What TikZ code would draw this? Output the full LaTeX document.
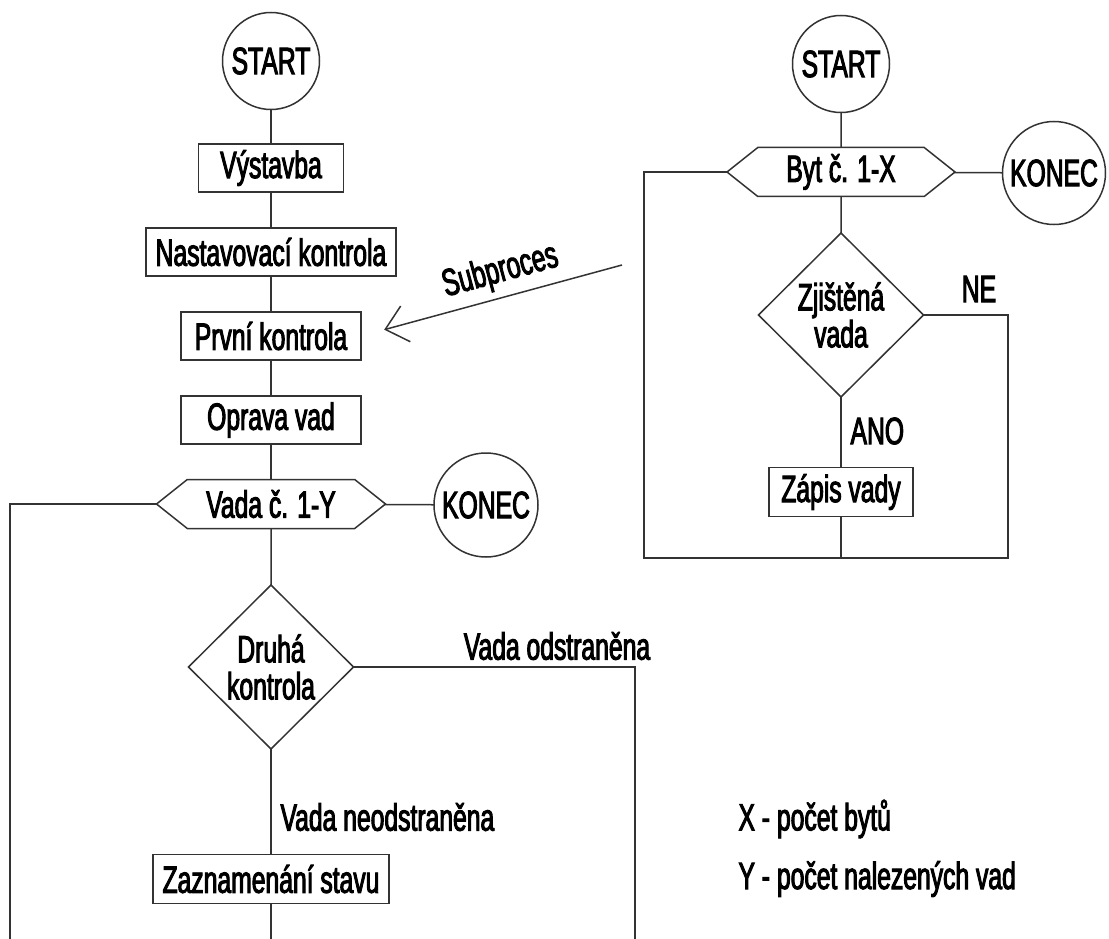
\documentclass[tikz,border=0pt]{standalone}
\usepackage{fontspec}
\setmainfont[FakeStretch=0.65, FakeBold=2.5]{Liberation Sans}
\usetikzlibrary{shapes.geometric,shapes.symbols,arrows.meta}

\begin{document}
\begin{tikzpicture}[x=1pt, y=-1pt,
    every node/.style={font=\fontsize{38}{37}\selectfont},
    tvar/.style={draw=black!80, line width=1.5pt, inner sep=0pt, outer sep=0pt},
    box/.style={tvar, rectangle, minimum height=48pt},
    term/.style={tvar, circle, minimum size=97pt},
    decision/.style={tvar, diamond, align=center, minimum width=165pt, minimum height=164pt},
    cyklus/.style={tvar, signal, signal to=west and east, signal pointer angle=77, minimum width=229pt, minimum height=49pt},
    spoj/.style={draw=black!80, line width=1.5pt},
]
    \useasboundingbox (0,0) rectangle (1109,939);

    % Hlavni proces
    \node[term] (startL) at (271,61) {START};
    \node[box, minimum width=145pt] (vystavba) at (271,168) {Výstavba};
    \node[box, minimum width=250pt] (nastav) at (271,252) {Nastavovací kontrola};
    \node[box, minimum width=180pt] (prvni) at (271,336) {První kontrola};
    \node[box, minimum width=180pt] (oprava) at (271,420) {Oprava vad};
    \node[cyklus] (vadaY) at (271,504) {Vada č. 1-Y};
    \node[term, minimum size=104pt] (konecL) at (486,505) {KONEC};
    \node[decision] (druha) at (271,667) {Druhá\\kontrola};
    \node[box, minimum width=236pt, minimum height=49pt] (zaznam) at (271,879) {Zaznamenání stavu};
    \node (odstrText) at (557,646) {Vada odstraněna};
    \node[anchor=west] (neodstrText) at (277,817) {Vada neodstraněna};

    \coordinate (smyckaL) at (10,504);
    \coordinate (dolL) at (10,939);
    \coordinate (dolM) at (271,939);
    \coordinate (odstr) at (635,667);
    \coordinate (dolR) at (635,939);

    \draw[spoj] (startL) -- (vystavba) -- (nastav) -- (prvni) -- (oprava) -- (vadaY);
    \draw[spoj] (vadaY) -- (konecL);
    \draw[spoj] (vadaY.west) -- (smyckaL) -- (dolL);
    \draw[spoj] (vadaY) -- (druha);
    \draw[spoj] (druha.east) -- (odstr) -- (dolR);
    \draw[spoj] (druha) -- (zaznam) -- (dolM);

    % Subproces
    \node[term] (startR) at (841,64) {START};
    \node[cyklus, minimum width=228pt] (bytX) at (841,172) {Byt č. 1-X};
    \node[term, minimum size=103pt] (konecR) at (1054,173) {KONEC};
    \node[decision] (zjist) at (841,315) {Zjištěná\\vada};
    \node[box, minimum width=144pt, minimum height=49pt] (zapis) at (841,492) {Zápis vady};
    \node (neText) at (979,289) {NE};
    \node[anchor=west] (anoText) at (847,431) {ANO};

    \coordinate (smyckaR) at (644,172);
    \coordinate (rohLD) at (644,558);
    \coordinate (dolS) at (841,558);
    \coordinate (rohPD) at (1008,558);
    \coordinate (ne) at (1008,315);
    \coordinate (sub) at (622,265);

    \draw[spoj] (startR) -- (bytX) -- (zjist);
    \draw[spoj] (bytX) -- (konecR);
    \draw[spoj] (zjist) -- (zapis) -- (dolS);
    \draw[spoj] (bytX.west) -- (smyckaR) -- (rohLD) -- (rohPD) -- (ne) -- (zjist.east);

    % Odkaz na subproces
    \draw[spoj, {Straight Barb[length=21pt, width=37pt]}-, shorten <=24pt] (prvni.east) -- (sub)
        node[pos=0.56, sloped, above, inner sep=7pt] (subText) {Subproces};

    % Legenda
    \node[anchor=west] (legX) at (735,819) {X - počet bytů};
    \node[anchor=west] (legY) at (735,879) {Y - počet nalezených vad};
\end{tikzpicture}
\end{document}
